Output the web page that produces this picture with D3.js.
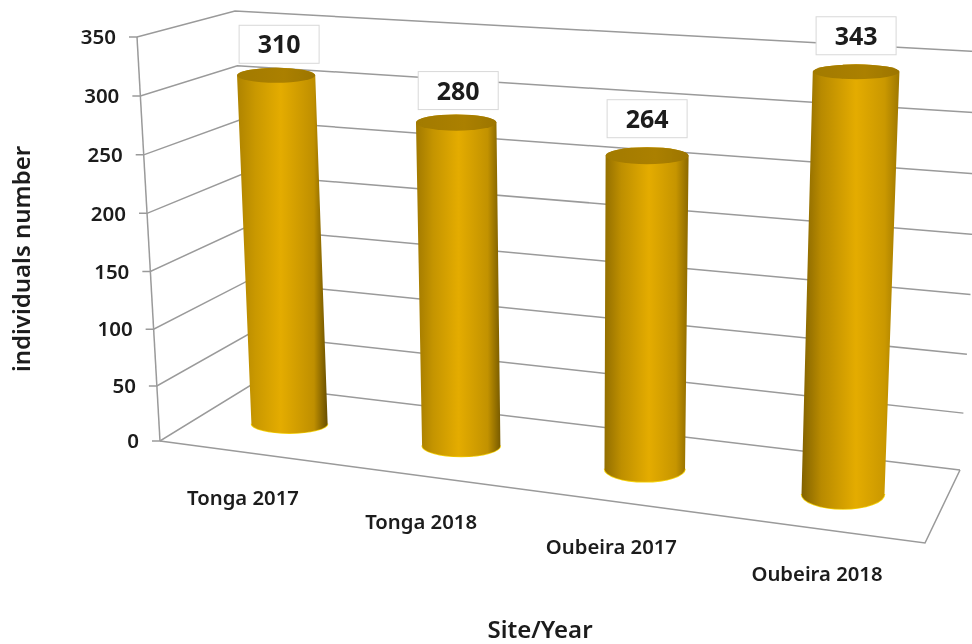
<!DOCTYPE html>
<html>
<head>
<meta charset="utf-8">
<script src="https://cdn.jsdelivr.net/npm/d3@7"></script>
<style>
  html, body { margin: 0; padding: 0; background: #fff; }
  svg { display: block; }
  text { font-family: "Noto Sans", sans-serif; fill: #1a1a1a; }
</style>
</head>
<body>
<svg id="chart" width="972" height="644"></svg>
<script>
const categories = ["Tonga 2017", "Tonga 2018", "Oubeira 2017", "Oubeira 2018"];
const values = [310, 280, 264, 343];
const yTicks = [0, 50, 100, 150, 200, 250, 300, 350];
const yTitle = "individuals number";
const xTitle = "Site/Year";

const svg = d3.select("#chart");

// perspective is faked: v runs up the vertical edges, u along the floor, w into the depth
const v = d3.scalePow().exponent(1.025).domain([0, 350]).range([0, 1]);
const flx = d3.scaleLinear().domain([0, 1]).range([160, 137]);
const fly = d3.scaleLinear().domain([0, 1]).range([441, 37]);
const blx = d3.scaleLinear().domain([0, 1]).range([251, 235]);
const bly = d3.scaleLinear().domain([0, 1]).range([385, 11]);
const frx = d3.scaleLinear().domain([0, 1]).range([925, 937]);
const fry = d3.scaleLinear().domain([0, 1]).range([543, 86]);
const brx = d3.scaleLinear().domain([0, 1]).range([960, 985]);
const bry = d3.scaleLinear().domain([0, 1]).range([470, 52]);

function project(u, w, val) {
    const t = v(val);
    const lx = flx(t) + (blx(t) - flx(t)) * w, ly = fly(t) + (bly(t) - fly(t)) * w;
    const rx = frx(t) + (brx(t) - frx(t)) * w, ry = fry(t) + (bry(t) - fry(t)) * w;
    return [lx + (rx - lx) * u, ly + (ry - ly) * u];
}

// bars get wider apart towards the viewer
const xPos = d3.scaleLinear().domain([0, 1, 2, 3]).range([0.114, 0.347, 0.596, 0.865]);
const barDepth = 0.5;
// ellipse flattening depends on how far the ellipse is from the eye
const ellipseRy = d3.scaleLinear().domain([70, 160, 425, 492]).range([7.4, 8.6, 9.5, 15]);
const radius = (u, t) => 37.6 + 4.5 * u + (1 + u) * t;
const labelY = d3.scaleLinear().domain([0.114, 0.865]).range([498, 574]);
const labelX = d3.scaleLinear().domain([0.114, 0.865]).range([243, 817]);
const boxNudgeX = d3.scaleLinear().domain([0, 1, 2, 3]).range([3, 2, 0, 0]);
const boxNudgeY = d3.scaleLinear().domain([0, 1, 2, 3]).range([-31, -32, -37, -36]);

const defs = svg.append("defs");
defs.append("filter").attr("id", "soft")
    .append("feGaussianBlur").attr("stdDeviation", 0.45);

const root = svg.append("g").attr("filter", "url(#soft)");

// walls
const grid = root.append("g").attr("fill", "none").attr("stroke", "#9a9a9a").attr("stroke-width", 1.5);
const line = d3.line();

yTicks.forEach(d => {
    const pts = [[project(0, 0, d)[0] - 8, project(0, 0, d)[1]], project(0, 0, d), project(0, 1, d), project(1, 1, d)];
    grid.append("path").attr("d", line(pts));
});
grid.append("path").attr("d", line([project(0, 0, 0), project(0, 0, 350)]));
grid.append("path").attr("d", line([project(0, 0, 0), project(1, 0, 0), project(1, 1, 0)]));

root.append("g").selectAll("text")
    .data(yTicks)
    .join("text")
    .attr("x", d => project(0, 0, d)[0] - 21)
    .attr("y", d => project(0, 0, d)[1])
    .attr("dy", "0.35em")
    .attr("text-anchor", "end")
    .attr("font-size", 20.5)
    .attr("font-weight", 600)
    .text(d => d);

// cylinders
const bars = values.map((d, i) => {
    const u = xPos(i);
    const base = project(u, barDepth, 0), top = project(u, barDepth, d);
    return {
        i, d, u, base, top,
        rb: radius(u, 0), rt: radius(u, v(d)),
        ryb: ellipseRy(base[1]), ryt: ellipseRy(top[1])
    };
});

bars.forEach(b => {
    const side = defs.append("linearGradient").attr("id", "side" + b.i);
    const stops = [
        [0, d3.interpolateRgb("#b58800", "#7a5c00")(b.u)],
        [0.2, d3.interpolateRgb("#cc9a00", "#b58800")(b.u)],
        [0.47 + 0.1 * b.u, "#e4ac00"],
        [0.85, d3.interpolateRgb("#bd8e00", "#cc9a00")(b.u)],
        [1, d3.interpolateRgb("#5f4800", "#a87e00")(b.u)]
    ];
    side.selectAll("stop").data(stops).join("stop")
        .attr("offset", s => s[0])
        .attr("stop-color", s => s[1]);
});

const topFill = defs.append("linearGradient").attr("id", "cap");
topFill.append("stop").attr("offset", 0).attr("stop-color", "#a27a00");
topFill.append("stop").attr("offset", 0.6).attr("stop-color", "#ab8000");
topFill.append("stop").attr("offset", 1).attr("stop-color", "#9c7500");

const barG = root.append("g").selectAll("g").data(bars).join("g");

barG.append("path")
    .attr("d", b => `M${b.base[0] - b.rb},${b.base[1]} A${b.rb},${b.ryb} 0 0 0 ${b.base[0] + b.rb},${b.base[1]}`)
    .attr("fill", "none")
    .attr("stroke", "#f7d40a")
    .attr("stroke-width", 1.5);

barG.append("path")
    .attr("d", b => `M${b.top[0] - b.rt},${b.top[1]}
        L${b.base[0] - b.rb},${b.base[1]}
        A${b.rb},${b.ryb} 0 0 0 ${b.base[0] + b.rb},${b.base[1]}
        L${b.top[0] + b.rt},${b.top[1]}
        A${b.rt},${b.ryt} 0 0 0 ${b.top[0] - b.rt},${b.top[1]}Z`)
    .attr("fill", b => `url(#side${b.i})`);

barG.append("ellipse")
    .attr("cx", b => b.top[0])
    .attr("cy", b => b.top[1])
    .attr("rx", b => b.rt)
    .attr("ry", b => b.ryt)
    .attr("fill", "url(#cap)");

// value labels
const boxW = 80, boxH = 38;
barG.append("rect")
    .attr("x", b => b.top[0] + boxNudgeX(b.i) - boxW / 2)
    .attr("y", b => b.top[1] + boxNudgeY(b.i) - boxH / 2)
    .attr("width", boxW)
    .attr("height", boxH)
    .attr("fill", "#fff")
    .attr("stroke", "#d8d8d8")
    .attr("stroke-width", 1);

barG.append("text")
    .attr("x", b => b.top[0] + boxNudgeX(b.i))
    .attr("y", b => b.top[1] + boxNudgeY(b.i))
    .attr("dy", "0.36em")
    .attr("text-anchor", "middle")
    .attr("font-size", 25)
    .attr("font-weight", 700)
    .text(b => b.d);

// category labels
root.append("g").selectAll("text")
    .data(categories)
    .join("text")
    .attr("x", (d, i) => labelX(xPos(i)))
    .attr("y", (d, i) => labelY(xPos(i)))
    .attr("dy", "0.35em")
    .attr("text-anchor", "middle")
    .attr("font-size", 20.3)
    .attr("font-weight", 600)
    .text(d => d);

root.append("text")
    .attr("transform", "translate(22,259) rotate(-90)")
    .attr("dy", "0.35em")
    .attr("text-anchor", "middle")
    .attr("font-size", 24)
    .attr("font-weight", 600)
    .text(yTitle);

root.append("text")
    .attr("x", 540)
    .attr("y", 630)
    .attr("dy", "0.35em")
    .attr("text-anchor", "middle")
    .attr("font-size", 24)
    .attr("font-weight", 600)
    .text(xTitle);
</script>
</body>
</html>
